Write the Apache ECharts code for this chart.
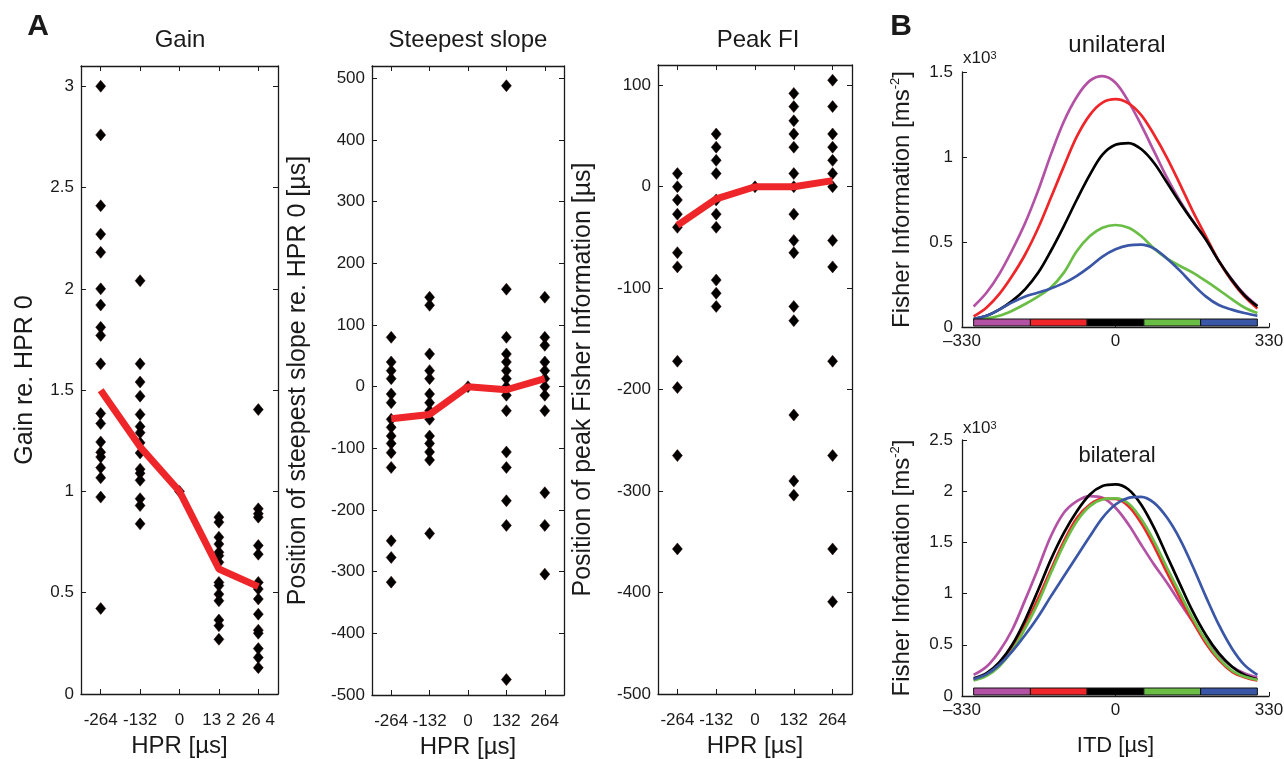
<!DOCTYPE html>
<html>
<head>
<meta charset="utf-8">
<title>HPR / Fisher information</title>
<script src="https://cdn.jsdelivr.net/npm/echarts@6/dist/echarts.min.js"></script>
<style>
  html, body { margin: 0; padding: 0; background: #fff; }
  #main { width: 1284px; height: 759px; }
</style>
</head>
<body>
<div id="main"></div>
<script>
// ---- panel A data (HPR in µs) ----
var hpr = [-264, -132, 0, 132, 264];
var hprLabelsGain = ['-264', '-132', '0', '13 2', '26 4'];
var hprLabels = ['-264', '-132', '0', '132', '264'];

var gainCols = [
  [3.0, 2.76, 2.41, 2.27, 2.18, 2.0, 1.92, 1.81, 1.77, 1.63, 1.385, 1.335, 1.244, 1.193, 1.17, 1.117, 1.067, 0.972, 0.422],
  [2.04, 1.63, 1.54, 1.47, 1.38, 1.32, 1.29, 1.24, 1.19, 1.11, 1.09, 1.055, 0.964, 0.93, 0.84],
  [1],
  [0.873, 0.848, 0.774, 0.74, 0.70, 0.683, 0.65, 0.551, 0.535, 0.493, 0.46, 0.365, 0.337, 0.27],
  [1.404, 0.914, 0.89, 0.873, 0.733, 0.69, 0.551, 0.518, 0.469, 0.394, 0.315, 0.30, 0.224, 0.18, 0.13]
];
var gainMean = [1.5, 1.22, 1.0, 0.617, 0.53];

var slopeCols = [
  [80, 40, 26, 13, -12, -26, -53, -66, -80, -92, -107, -131, -250, -277, -317],
  [145, 132, 53, 26, 13, -12, -26, -39, -53, -80, -92, -106, -119, -238],
  [0],
  [488, 158, 80, 53, 40, 26, 13, 0, -14, -39, -106, -131, -185, -225, -475],
  [145, 80, 67, 40, 26, 13, 0, -14, -39, -172, -225, -304]
];
var slopeMean = [-52, -45, 0, -5, 13];

var peakCols = [
  [13, 0, -13, -27, -40, -65, -79, -172, -198, -265, -357],
  [52, 39, 26, 13, -13, -27, -40, -92, -105, -118],
  [0],
  [92, 79, 65, 52, 39, 13, 0, -27, -53, -65, -118, -132, -225, -290, -304],
  [105, 79, 52, 39, 26, 13, 0, -53, -79, -172, -265, -357, -409]
];
var peakMean = [-38, -12, 0, 0, 6];

var gainTicks = [0, 0.5, 1, 1.5, 2, 2.5, 3];
var slopeTicks = [-500, -400, -300, -200, -100, 0, 100, 200, 300, 400, 500];
var peakTicks = [-500, -400, -300, -200, -100, 0, 100];

// ---- panel B data (ITD in µs, Fisher information in ms^-2) ----
var itd = [-305, -277, -250, -222, -194, -166, -139, -111, -83, -55, -28, 0, 28, 55, 83, 111, 139, 166, 194, 222, 250, 277, 305];
var uniPurple = [121, 203, 311, 453, 613, 805, 1014, 1209, 1355, 1449, 1476, 1437, 1326, 1189, 1033, 877, 740, 623, 516, 389, 281, 193, 125];
var uniRed    = [62, 115, 193, 301, 428, 584, 760, 945, 1121, 1248, 1320, 1340, 1316, 1248, 1131, 994, 838, 682, 535, 389, 271, 180, 109];
var uniBlack  = [47, 66, 102, 154, 223, 320, 447, 594, 750, 896, 1014, 1072, 1082, 1047, 965, 848, 730, 623, 516, 389, 277, 187, 121];
var uniGreen  = [47, 51, 66, 96, 135, 180, 232, 320, 447, 535, 584, 600, 584, 535, 461, 402, 359, 320, 271, 219, 164, 115, 82];
var uniBlue   = [47, 66, 102, 145, 180, 203, 227, 258, 301, 355, 414, 457, 480, 484, 461, 402, 330, 252, 180, 129, 102, 82, 66];

var biPurple = [206, 288, 435, 647, 941, 1251, 1560, 1789, 1903, 1952, 1935, 1838, 1675, 1479, 1283, 1104, 908, 728, 549, 402, 288, 223, 183];
var biRed    = [157, 206, 304, 467, 695, 956, 1233, 1511, 1739, 1870, 1925, 1925, 1854, 1691, 1462, 1201, 956, 728, 516, 353, 239, 183, 151];
var biBlack  = [174, 223, 327, 500, 745, 1038, 1332, 1593, 1805, 1968, 2050, 2066, 2017, 1870, 1642, 1365, 1088, 826, 598, 418, 288, 206, 164];
var biGreen  = [151, 197, 288, 444, 663, 914, 1201, 1479, 1707, 1854, 1919, 1929, 1880, 1730, 1511, 1250, 999, 761, 542, 369, 249, 190, 157];
var biBlue   = [164, 213, 304, 435, 598, 777, 973, 1169, 1365, 1560, 1740, 1870, 1935, 1945, 1886, 1740, 1528, 1267, 973, 696, 467, 304, 206];

var itdTicks = [-330, 0, 330];
var itdLabels = ['\u2013330', '0', '330'];
var uniTicks = [0, 500, 1000, 1500];
var biTicks = [0, 500, 1000, 1500, 2000, 2500];
var segEdges = [-305, -183, -61, 61, 183, 305];

var colPurple = '#b352a4', colRed = '#ee2529', colBlack = '#000000', colGreen = '#6abd45', colBlue = '#3a56a6';
var segColors = [colPurple, colRed, colBlack, colGreen, colBlue];

var FONT = 'Liberation Sans, Arial, Helvetica, sans-serif';
var INK = '#1a1a1a';

var chart = echarts.init(document.getElementById('main'));

function colPoints(cols) {
  var pts = [];
  cols.forEach(function (c, i) { c.forEach(function (v) { pts.push([hpr[i], v]); }); });
  return pts;
}
function zip(xs, ys) { return xs.map(function (x, i) { return [x, ys[i]]; }); }

var grids = [
  { left: 81, top: 66, width: 197, height: 628 },
  { left: 372, top: 66, width: 192, height: 629 },
  { left: 658, top: 65, width: 194, height: 629 },
  { left: 962, top: 72, width: 307, height: 255 },
  { left: 962, top: 440, width: 307, height: 256 }
].map(function (g) { g.outerBoundsMode = 'none'; g.containLabel = false; return g; });

var xAxes = [], yAxes = [], series = [];

// panel A: boxed axes with inward ticks on all four sides
var panelsA = [
  { cols: gainCols, mean: gainMean, ticks: gainTicks, min: 0, max: 3.1, xl: hprLabelsGain, name: 'Gain re. HPR 0', gap: 43 },
  { cols: slopeCols, mean: slopeMean, ticks: slopeTicks, min: -500, max: 520, xl: hprLabels, name: 'Position of steepest slope re. HPR 0 [\u00b5s]', gap: 61 },
  { cols: peakCols, mean: peakMean, ticks: peakTicks, min: -500, max: 120, xl: hprLabels, name: 'Position of peak Fisher Information [\u00b5s]', gap: 62 }
];

panelsA.forEach(function (p, g) {
  var line = { show: true, onZero: false, lineStyle: { color: INK, width: 1.3 } };
  var tick = { show: true, inside: true, length: 5, customValues: hpr, lineStyle: { color: INK } };
  xAxes.push({
    type: 'value', gridIndex: g, min: -330, max: 330, position: 'bottom',
    axisLine: line, axisTick: tick, splitLine: { show: false },
    axisLabel: { customValues: hpr, margin: 18, fontSize: 17, fontFamily: FONT, color: INK,
      formatter: (function (labels) { return function (v) { return labels[hpr.indexOf(v)]; }; })(p.xl) },
    name: 'HPR [\u00b5s]', nameLocation: 'middle', nameGap: 40,
    nameTextStyle: { fontSize: 24, fontFamily: FONT, color: INK }
  });
  xAxes.push({
    type: 'value', gridIndex: g, min: -330, max: 330, position: 'top',
    axisLine: line, axisTick: tick, axisLabel: { show: false }, splitLine: { show: false }
  });
  var ytick = { show: true, inside: true, length: 5, customValues: p.ticks, lineStyle: { color: INK } };
  yAxes.push({
    type: 'value', gridIndex: g, min: p.min, max: p.max, position: 'left',
    axisLine: line, axisTick: ytick, splitLine: { show: false },
    axisLabel: { customValues: p.ticks, margin: 7, fontSize: 17, fontFamily: FONT, color: INK },
    name: p.name, nameLocation: 'middle', nameGap: p.gap,
    nameTextStyle: { fontSize: 25, fontFamily: FONT, color: INK }
  });
  yAxes.push({
    type: 'value', gridIndex: g, min: p.min, max: p.max, position: 'right',
    axisLine: line, axisTick: ytick, axisLabel: { show: false }, splitLine: { show: false }
  });
  var xi = g * 2, yi = g * 2;
  series.push({
    type: 'scatter', xAxisIndex: xi, yAxisIndex: yi, data: colPoints(p.cols),
    symbol: 'diamond', symbolSize: [10, 12],
    itemStyle: { color: '#000000', borderColor: '#2a0000', borderWidth: 0.5, opacity: 1 }, z: 3
  });
  series.push({
    type: 'line', xAxisIndex: xi, yAxisIndex: yi, data: zip(hpr, p.mean),
    showSymbol: false, lineStyle: { color: '#ee2529', width: 7 }, z: 4
  });
});

// panel B: open axes (left + bottom)
var panelsB = [
  { ticks: uniTicks, max: 1500, curves: [uniPurple, uniRed, uniBlack, uniGreen, uniBlue], showX: false },
  { ticks: biTicks, max: 2500, curves: [biPurple, biRed, biBlack, biGreen, biBlue], showX: true }
];
var curveColors = [colPurple, colRed, colBlack, colGreen, colBlue];

panelsB.forEach(function (p, k) {
  var g = 3 + k;
  var line = { show: true, onZero: false, lineStyle: { color: INK, width: 1.3 } };
  var xAx = {
    type: 'value', gridIndex: g, min: -330, max: 330, position: 'bottom',
    axisLine: line, splitLine: { show: false },
    axisTick: { show: true, inside: true, length: 4, customValues: itdTicks, lineStyle: { color: INK } },
    axisLabel: { customValues: itdTicks, margin: 6, fontSize: 17, fontFamily: FONT, color: INK,
      formatter: function (v) { return itdLabels[itdTicks.indexOf(v)]; } }
  };
  if (p.showX) {
    xAx.name = 'ITD [\u00b5s]';
    xAx.nameLocation = 'middle';
    xAx.nameGap = 39;
    xAx.nameTextStyle = { fontSize: 22, fontFamily: FONT, color: INK };
  }
  var xIndex = xAxes.length;
  xAxes.push(xAx);
  var yIndex = yAxes.length;
  yAxes.push({
    type: 'value', gridIndex: g, min: 0, max: p.max, position: 'left',
    axisLine: line, splitLine: { show: false },
    axisTick: { show: true, inside: true, length: 5, customValues: p.ticks, lineStyle: { color: INK } },
    axisLabel: { customValues: p.ticks, margin: 9, fontSize: 17, fontFamily: FONT, color: INK,
      formatter: function (v) { return String(v / 1000); } },
    name: 'Fisher Information [ms{s|-2}]', nameLocation: 'middle', nameGap: 46,
    nameTextStyle: { fontSize: 24, fontFamily: FONT, color: INK, lineHeight: 27,
      rich: { s: { fontSize: 13, fontFamily: FONT, color: INK, verticalAlign: 'top', lineHeight: 27, padding: [0, 0, 12, 0] } } }
  });
  p.curves.forEach(function (c, i) {
    series.push({
      type: 'line', xAxisIndex: xIndex, yAxisIndex: yIndex, data: zip(itd, c),
      smooth: 0.35, showSymbol: false, lineStyle: { color: curveColors[i], width: 2.7 }, z: 2
    });
  });
  series.push({
    type: 'custom', xAxisIndex: xIndex, yAxisIndex: yIndex, z: 5, clip: false,
    data: [[0], [1], [2], [3], [4]],
    renderItem: function (params, api) {
      var i = api.value(0);
      var a = api.coord([segEdges[i], 0]);
      var b = api.coord([segEdges[i + 1], 0]);
      return {
        type: 'rect',
        shape: { x: a[0], y: a[1] - 8, width: b[0] - a[0], height: 7 },
        style: { fill: segColors[i], stroke: '#111', lineWidth: 1 }
      };
    }
  });
});

function txt(x, y, text, size, bold) {
  return { type: 'text', x: x, y: y, z: 10,
    style: { text: text, fill: INK, font: (bold ? 'bold ' : '') + size + 'px ' + FONT,
             textAlign: 'center', textVerticalAlign: 'middle' } };
}
var supRich = { s: { fontSize: 11, fontFamily: FONT, fill: INK, verticalAlign: 'top', lineHeight: 16, padding: [0, 0, 6, 0] } };

chart.setOption({
  animation: false,
  backgroundColor: '#ffffff',
  grid: grids,
  xAxis: xAxes,
  yAxis: yAxes,
  series: series,
  graphic: [
    txt(38, 27, 'A', 30, true),
    txt(901, 27, 'B', 30, true),
    txt(180, 40, 'Gain', 24),
    txt(468, 40, 'Steepest slope', 24),
    txt(758, 40, 'Peak FI', 24),
    txt(1117, 45, 'unilateral', 24),
    txt(1117, 456, 'bilateral', 22),
    { type: 'text', x: 963, y: 50, style: { text: 'x10{s|3}', fill: INK, font: '17px ' + FONT, rich: supRich } },
    { type: 'text', x: 963, y: 420, style: { text: 'x10{s|3}', fill: INK, font: '17px ' + FONT, rich: supRich } }
  ]
});
</script>
</body>
</html>
